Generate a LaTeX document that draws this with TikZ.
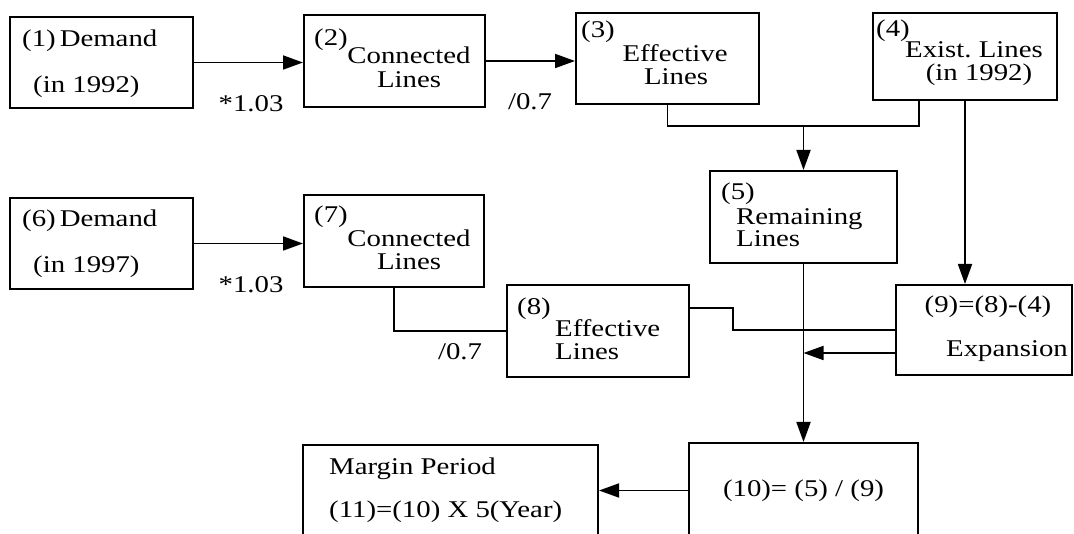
\documentclass[tikz,border=0pt]{standalone}
\usepackage{fontspec}
\setmainfont{Liberation Serif}[FakeStretch=1.2]
\usepackage{tikz}
\usetikzlibrary{arrows.meta, positioning}

\begin{document}
\begin{tikzpicture}[
    x=1pt, y=-1pt,
    font=\fontsize{24}{25}\selectfont,
    box/.style={rectangle, draw, line width=2pt, inner sep=0pt},
    txt/.style={inner sep=0pt, anchor=base},
    lefttxt/.style={inner sep=0pt, anchor=base west},
    conn/.style={line width=1.8pt},
    arrow/.style={conn, -{Triangle[length=20pt, width=14pt]}}
]
\useasboundingbox (0,0) rectangle (1074,534);
\clip (0,0) rectangle (1074,534);

% Row 1: demand in 1992
\node[box, minimum width=183, minimum height=91] (dem92) at (101.5,62.5) {};
\node[box, minimum width=181, minimum height=92] (con92) at (394.5,61) {};
\node[box, minimum width=183, minimum height=91] (eff92) at (667.5,58.5) {};
\node[box, minimum width=184, minimum height=87] (ext92) at (965,56.5) {};

\node[lefttxt] (dem92a) at (22,47) {(1)\,Demand};
\node[lefttxt] (dem92b) at (33,93) {(in 1992)};
\node[lefttxt] (con92tag) at (314,46) {(2)};
\node[txt] (con92a) at (409,64) {Connected};
\node[txt] (con92b) at (409,88) {Lines};
\node[lefttxt] (eff92tag) at (581,38) {(3)};
\node[txt] (eff92a) at (675,62) {Effective};
\node[txt] (eff92b) at (676,85) {Lines};
\node[lefttxt] (ext92tag) at (876,37) {(4)};
\node[txt] (ext92a) at (974,58) {Exist.\ Lines};
\node[txt] (ext92b) at (979,81) {(in 1992)};

% Remaining lines
\node[box, minimum width=187, minimum height=92] (rem) at (803.5,217) {};
\node[lefttxt] (remtag) at (721,200) {(5)};
\node[lefttxt] (rema) at (736,225) {Remaining};
\node[lefttxt] (remb) at (736,247) {Lines};

% Row 2: demand in 1997
\node[box, minimum width=183, minimum height=91] (dem97) at (101.5,243.5) {};
\node[box, minimum width=180, minimum height=92] (con97) at (394,241) {};
\node[box, minimum width=182, minimum height=92] (eff97) at (598,331) {};
\node[box, minimum width=176, minimum height=90] (exp) at (984,330) {};

\node[lefttxt] (dem97a) at (22,227) {(6)\,Demand};
\node[lefttxt] (dem97b) at (33,273) {(in 1997)};
\node[lefttxt] (con97tag) at (314,223) {(7)};
\node[txt] (con97a) at (409,247) {Connected};
\node[txt] (con97b) at (409,270) {Lines};
\node[lefttxt] (eff97tag) at (517,315) {(8)};
\node[lefttxt] (eff97a) at (555,337) {Effective};
\node[lefttxt] (eff97b) at (555,360) {Lines};
\node[txt] (expa) at (988,313) {(9)=(8)-(4)};
\node[txt] (expb) at (1007,357) {Expansion};

% Result
\node[box, minimum width=229, minimum height=95] (ratio) at (803.5,490.5) {(10)= (5) / (9)};
\node[box, minimum width=295, minimum height=93] (margin) at (450.5,491.5) {};
\node[lefttxt] (margina) at (329,475) {Margin Period};
\node[lefttxt] (marginb) at (329,517) {(11)=(10) X 5(Year)};

% Factors
\node[txt] (fac92) at (251,112) {*1.03};
\node[txt] (div92) at (530,110) {/0.7};
\node[txt] (fac97) at (251,293) {*1.03};
\node[txt] (div97) at (460,360) {/0.7};

% Arrows row 1
\draw[arrow] (dem92.east) -- (dem92.east -| con92.west);
\draw[arrow] (con92.east) -- (con92.east -| eff92.west);
\coordinate (join) at (803.5,126);
\draw[conn] (eff92.south) |- (join) -| ([xshift=-46pt]ext92.south);
\draw[arrow] (join) -- (rem);
\draw[arrow] (ext92.south) -- (ext92.south |- exp.north);

% Arrows row 2
\draw[arrow] (dem97.east) -- (dem97.east -| con97.west);
\draw[conn] (con97.south) |- (eff97.west);
\draw[conn] ([yshift=23pt]eff97.east) -| ([xshift=-162pt]exp.west) -- (exp.west);
\coordinate (expout) at ([yshift=-23pt]exp.west);
\draw[arrow] (expout) -- (expout -| rem.south);

% To the result
\draw[arrow] (rem) -- (ratio);
\draw[arrow] (ratio.west) -- (ratio.west -| margin.east);

\end{tikzpicture}
\end{document}
